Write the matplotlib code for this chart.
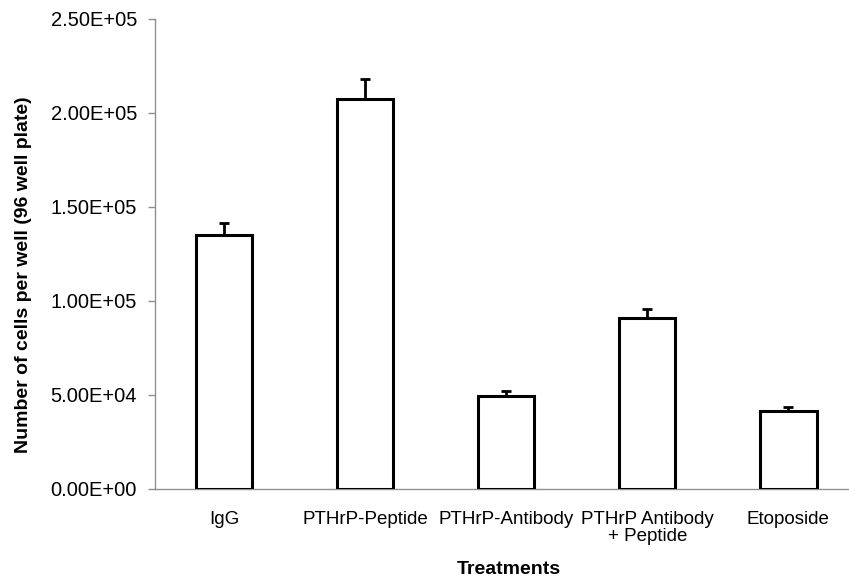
import numpy as np
import matplotlib
matplotlib.use('Agg')
import matplotlib.pyplot as plt
from matplotlib.ticker import FormatStrFormatter

# cell counts per treatment
treatments = ['IgG', 'PTHrP-Peptide', 'PTHrP-Antibody', 'PTHrP Antibody\n+ Peptide', 'Etoposide']
cells = [135000, 207400, 49500, 91000, 41500]
errors = [6500, 10600, 2600, 4700, 2100]
yticks = [0, 50000, 100000, 150000, 200000, 250000]

plt.rcParams['font.family'] = ['Liberation Sans', 'DejaVu Sans']

fig = plt.figure(figsize=(8.49, 5.79), dpi=100)
ax = fig.add_axes([155 / 849, 90 / 579, 1 - 155 / 849, (489 - 19) / 579])

x = np.arange(len(treatments))
ax.bar(x, cells, width=0.40, color='white', edgecolor='black', linewidth=2.2, zorder=3)
# only the upper half of the error bar is shown
ax.errorbar(x, cells, yerr=[np.zeros(len(errors)), errors], fmt='none', ecolor='black',
            elinewidth=2.0, capsize=3.5, capthick=2.0, zorder=2)

ax.set_xlim(-0.49, 4.43)
ax.set_ylim(0, 250000)
ax.set_yticks(yticks)
ax.yaxis.set_major_formatter(FormatStrFormatter('%.2E'))
ax.set_xticks(x)
ax.set_xticklabels(treatments, fontsize=13.5, linespacing=1.0)
ax.tick_params(axis='x', length=0, pad=16)
ax.tick_params(axis='y', length=5, width=1, color='#909090', labelsize=14.5, pad=8)

for s in ['top', 'right']:
    ax.spines[s].set_visible(False)
for s in ['left', 'bottom']:
    ax.spines[s].set_color('#909090')
    ax.spines[s].set_linewidth(1)

ax.set_xlabel('Treatments', fontsize=14, fontweight='bold')
ax.set_ylabel('Number of cells per well (96 well plate)', fontsize=14, fontweight='bold')
ax.xaxis.set_label_coords(0.51, -0.153)
ax.yaxis.set_label_coords(-0.177, 0.457)

plt.savefig('out.png', dpi=100)
